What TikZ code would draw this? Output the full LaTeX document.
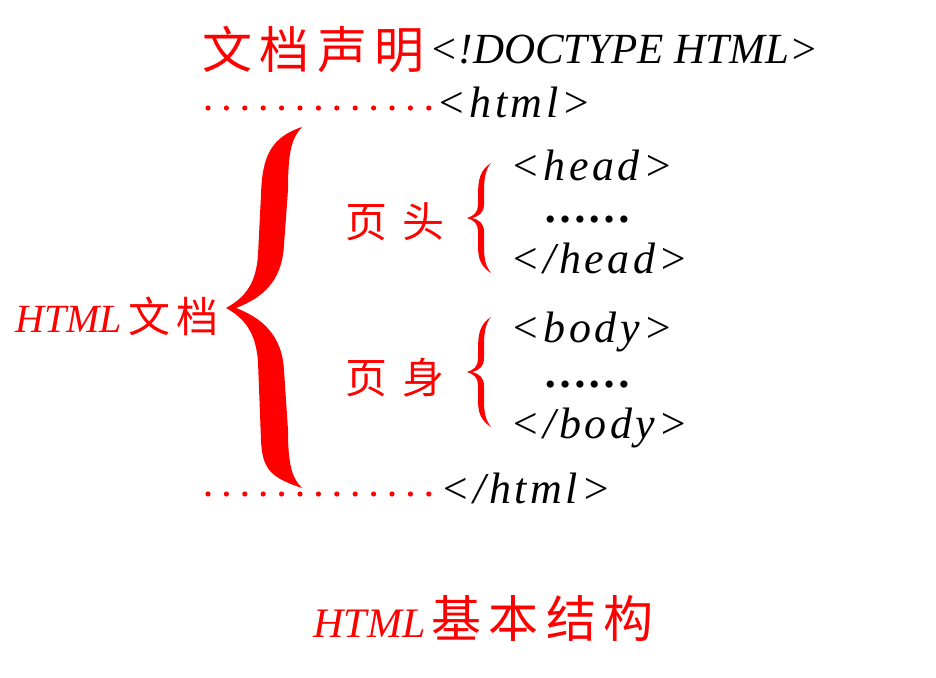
\documentclass[tikz,border=0pt]{standalone}
\usepackage{fontspec}
\setmainfont{Liberation Serif}
\newfontfamily\cjk[LetterSpace=15]{Noto Sans CJK SC}
\newfontfamily\cjkwide[LetterSpace=35]{Noto Sans CJK SC}
\newfontfamily\tagfont[LetterSpace=8]{Liberation Serif}
\usetikzlibrary{positioning}

\begin{document}
\begin{tikzpicture}[x=0.5pt,y=-0.5pt,
  tag/.style={font=\tagfont\itshape\fontsize{22}{24}\selectfont,inner sep=0pt,anchor=base west},
  zh/.style={text=red,inner sep=0pt,anchor=west},
  dotline/.style={red,line width=2.6pt,line cap=round,dash pattern=on 0pt off 9.2pt}]
\useasboundingbox (0,0) rectangle (936,678);
% declaration
\node[zh,font=\cjk\fontsize{25}{28}\selectfont] (decl) at (202,50) {文档声明};
\node[tag,font=\itshape\fontsize{21.5}{24}\selectfont,right=2pt of decl,anchor=west] (doctype) {<!DOCTYPE HTML>};
\node[tag] (html) at (436,118) {<html>};
\coordinate (d1) at (208,108);
\draw[dotline] (d1) -- (d1 -| html.west);
% document
\node[zh] (whole) at (15,316) {{\itshape\fontsize{20}{24}\selectfont HTML}\hspace{3pt}{\cjk\fontsize{21}{24}\selectfont 文档}};
\fill[red] (302,127) .. controls (272,137) and (262,155) .. (261,195) -- (258,255)
  .. controls (256,285) and (244,298) .. (226,308) .. controls (244,318) and (256,332) .. (258,362)
  -- (261,440) .. controls (262,470) and (272,478) .. (302,488)
  .. controls (292,478) and (288,465) .. (288,430) -- (284,370)
  .. controls (282,335) and (262,318) .. (236,308) .. controls (262,298) and (282,282) .. (284,245)
  -- (288,190) .. controls (288,150) and (292,138) .. (302,127) -- cycle;
% head and body
\node[zh,font=\cjkwide\fontsize{21}{24}\selectfont] (headlbl) at (345,222) {页头};
\node[zh,font=\cjkwide\fontsize{21}{24}\selectfont] (bodylbl) at (345,378) {页身};
\foreach \m in {218,372}
  \fill[red] (491,\m-55) .. controls (480,\m-48) and (478,\m-38) .. (478,\m-23) -- (478,\m-13)
    .. controls (478,\m-6) and (474,\m-2) .. (467,\m) .. controls (474,\m+2) and (478,\m+6) .. (478,\m+13)
    -- (478,\m+27) .. controls (478,\m+40) and (480,\m+48) .. (491,\m+55)
    .. controls (485,\m+47) and (484,\m+40) .. (484,\m+27) -- (484,\m+14)
    .. controls (484,\m+6) and (480,\m+2) .. (472,\m) .. controls (480,\m-2) and (484,\m-6) .. (484,\m-14)
    -- (484,\m-26) .. controls (484,\m-38) and (485,\m-48) .. (491,\m-55) -- cycle;
\node[tag] (hopen) at (510,181) {<head>};
\node[tag,font=\bfseries\fontsize{22}{24}\selectfont] (hdots) at (543,223) {……};
\node[tag] (hclose) at (510,274) {</head>};
\node[tag] (bopen) at (510,343) {<body>};
\node[tag,font=\bfseries\fontsize{22}{24}\selectfont] (bdots) at (543,387) {……};
\node[tag] (bclose) at (510,438) {</body>};
% end
\node[tag] (endhtml) at (440,503) {</html>};
\coordinate (d2) at (208,494);
\draw[dotline] (d2) -- (d2 -| endhtml.west);
\node[zh] (caption) at (313,618) {{\itshape\fontsize{21}{24}\selectfont HTML}\hspace{3pt}{\cjk\fontsize{25}{28}\selectfont 基本结构}};
\end{tikzpicture}
\end{document}
